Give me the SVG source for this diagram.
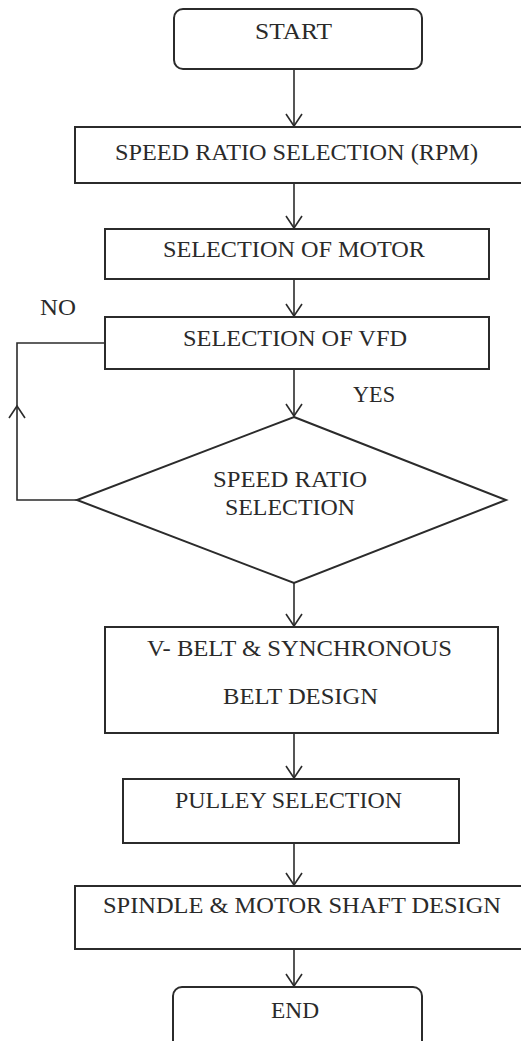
<svg xmlns="http://www.w3.org/2000/svg" width="521" height="1041" viewBox="0 0 521 1041">
<style>
.box{fill:#fff;stroke:#2b2b2b;stroke-width:2}
.lbl{font-family:"Liberation Serif","Times New Roman",serif;font-size:24px;fill:#2a2a2a}
.conn{fill:none;stroke:#2b2b2b;stroke-width:1.6}
</style>
<defs>
<marker id="arr" markerUnits="userSpaceOnUse" markerWidth="20" markerHeight="20" viewBox="-14 -10 16 20" refX="0" refY="0" orient="auto">
<path d="M-12,-8 L0,0 L-12,8" fill="none" stroke="#2b2b2b" stroke-width="1.6"/>
</marker>
</defs>
<rect width="521" height="1041" fill="#fff"/>
<g id="connectors">
<line class="conn" x1="294" y1="69" x2="294" y2="126" marker-end="url(#arr)"/>
<line class="conn" x1="294" y1="183" x2="294" y2="228" marker-end="url(#arr)"/>
<line class="conn" x1="294" y1="279" x2="294" y2="316" marker-end="url(#arr)"/>
<line class="conn" x1="294" y1="369" x2="294" y2="416" marker-end="url(#arr)"/>
<line class="conn" x1="294" y1="583" x2="294" y2="626" marker-end="url(#arr)"/>
<line class="conn" x1="294" y1="733" x2="294" y2="778" marker-end="url(#arr)"/>
<line class="conn" x1="294" y1="843" x2="294" y2="885" marker-end="url(#arr)"/>
<line class="conn" x1="294" y1="949" x2="294" y2="986" marker-end="url(#arr)"/>
<path class="conn" d="M77,500 L17,500 L17,406" marker-end="url(#arr)"/>
<path class="conn" d="M17,406 L17,343 L105,343"/>
<text class="lbl" x="40" y="315" textLength="36" lengthAdjust="spacingAndGlyphs">NO</text>
<text class="lbl" x="353" y="402" textLength="42" lengthAdjust="spacingAndGlyphs">YES</text>
</g>
<g id="start">
<rect class="box" x="174" y="9" width="248" height="60" rx="9"/>
<text class="lbl" x="255" y="39" textLength="77" lengthAdjust="spacingAndGlyphs">START</text>
</g>
<g id="speed-rpm">
<rect class="box" x="75" y="127" width="460" height="56"/>
<text class="lbl" x="115" y="160" textLength="363" lengthAdjust="spacingAndGlyphs">SPEED RATIO SELECTION (RPM)</text>
</g>
<g id="motor">
<rect class="box" x="105" y="229" width="384" height="50"/>
<text class="lbl" x="163" y="257" textLength="262" lengthAdjust="spacingAndGlyphs">SELECTION OF MOTOR</text>
</g>
<g id="vfd">
<rect class="box" x="105" y="317" width="384" height="52"/>
<text class="lbl" x="183" y="346" textLength="224" lengthAdjust="spacingAndGlyphs">SELECTION OF VFD</text>
</g>
<g id="decision">
<polygon class="box" points="294,417 506,500 294,583 77,500"/>
<text class="lbl" x="213" y="487" textLength="154" lengthAdjust="spacingAndGlyphs">SPEED RATIO</text>
<text class="lbl" x="225" y="515" textLength="130" lengthAdjust="spacingAndGlyphs">SELECTION</text>
</g>
<g id="belt">
<rect class="box" x="105" y="627" width="393" height="106"/>
<text class="lbl" x="147" y="656" textLength="305" lengthAdjust="spacingAndGlyphs">V- BELT &amp; SYNCHRONOUS</text>
<text class="lbl" x="223" y="704" textLength="155" lengthAdjust="spacingAndGlyphs">BELT DESIGN</text>
</g>
<g id="pulley">
<rect class="box" x="123" y="779" width="336" height="64"/>
<text class="lbl" x="175" y="808" textLength="227" lengthAdjust="spacingAndGlyphs">PULLEY SELECTION</text>
</g>
<g id="spindle">
<rect class="box" x="75" y="886" width="460" height="63"/>
<text class="lbl" x="103" y="913" textLength="398" lengthAdjust="spacingAndGlyphs">SPINDLE &amp; MOTOR SHAFT DESIGN</text>
</g>
<g id="end">
<rect class="box" x="173" y="987" width="249" height="70" rx="9"/>
<text class="lbl" x="271" y="1018" textLength="48" lengthAdjust="spacingAndGlyphs">END</text>
</g>
</svg>
